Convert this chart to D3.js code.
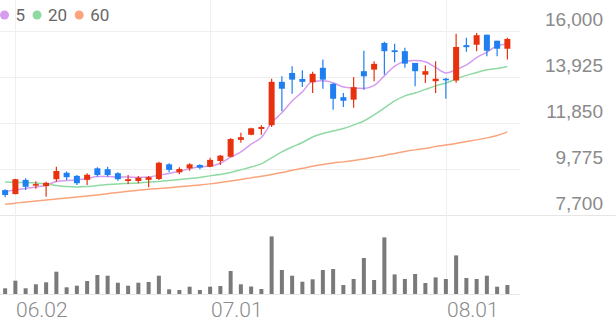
<!DOCTYPE html>
<html>
<head>
<meta charset="utf-8">
<script src="https://cdn.jsdelivr.net/npm/d3@7"></script>
<style>
  body { margin: 0; background: #fff; }
  svg { display: block; font-family: Roboto, sans-serif; }
</style>
</head>
<body>
<script>
// trading days, 2025-05-30 .. 2025-08-11
const dates = [
  "05.30", "06.02", "06.04", "06.05", "06.09", "06.10", "06.11", "06.12", "06.13", "06.16",
  "06.17", "06.18", "06.19", "06.20", "06.23", "06.24", "06.25", "06.26", "06.27", "06.30",
  "07.01", "07.02", "07.03", "07.04", "07.07", "07.08", "07.09", "07.10", "07.11", "07.14",
  "07.15", "07.16", "07.17", "07.18", "07.21", "07.22", "07.23", "07.24", "07.25", "07.28",
  "07.29", "07.30", "07.31", "08.01", "08.04", "08.05", "08.06", "08.07", "08.08", "08.11"
];
const tickDates = ["06.02", "07.01", "08.01"];
const priceTicks = [7700, 9775, 11850, 13925, 16000];

const opens = [8820, 8640, 9280, 9020, 9000, 9310, 9600, 9460, 9280, 9800, 9760, 9580, 9230, 9230, 9280, 9320, 9980, 9620, 9800, 9950, 9870, 10130, 10320, 11080, 11310, 11570, 11740, 13690, 14090, 13820, 13670, 14320, 13600, 13000, 12890, 14170, 14240, 15440, 15110, 15070, 14540, 14010, 13720, 13830, 13750, 15340, 15360, 15810, 15540, 15180];
const highs = [8860, 9330, 9350, 9220, 9200, 9870, 9660, 9500, 9580, 9850, 9870, 9620, 9500, 9460, 9460, 10100, 10030, 9850, 10030, 9980, 10280, 10400, 11150, 11400, 11630, 11740, 13830, 13940, 14390, 14210, 14140, 14690, 13640, 13190, 13910, 15090, 14620, 15490, 15400, 15220, 14540, 14420, 14620, 13870, 15850, 15670, 15890, 15810, 15540, 15670];
const lows = [8500, 8630, 8830, 8880, 8520, 9200, 9280, 9050, 9050, 9420, 9420, 9240, 9100, 9130, 8950, 9280, 9620, 9530, 9690, 9760, 9850, 9950, 10300, 10950, 11290, 11310, 11660, 12370, 13160, 13460, 13190, 13380, 12440, 12560, 12520, 13340, 13720, 14010, 14570, 14320, 13490, 13640, 13190, 12930, 13650, 15040, 15070, 14840, 14840, 14690];
const closes = [8600, 9310, 8970, 9090, 9150, 9680, 9400, 9130, 9510, 9500, 9500, 9310, 9310, 9380, 9400, 10050, 9730, 9770, 9980, 9830, 10180, 10370, 11120, 11200, 11600, 11660, 13690, 13380, 13790, 13690, 14050, 13790, 12930, 12840, 13450, 13940, 14500, 15070, 15030, 14510, 14170, 14170, 13830, 13760, 15260, 15250, 15790, 15090, 15180, 15620];
// volume, thousand shares
const volumes = [285, 665, 285, 485, 585, 1115, 335, 415, 650, 950, 915, 565, 415, 565, 600, 915, 235, 200, 365, 200, 365, 400, 1150, 485, 375, 250, 2880, 1200, 915, 615, 735, 1200, 1250, 450, 750, 1800, 700, 2830, 980, 750, 1000, 550, 830, 750, 1930, 800, 750, 915, 365, 450];

const ma5 = [8760, 8830, 8890, 8960, 9030, 9210, 9250, 9280, 9340, 9430, 9430, 9410, 9410, 9390, 9410, 9490, 9570, 9670, 9780, 9870, 9900, 10030, 10300, 10540, 10890, 11190, 11850, 12300, 12830, 13240, 13720, 13740, 13650, 13460, 13410, 13390, 13530, 13960, 14400, 14610, 14650, 14590, 14340, 14090, 14240, 14450, 14780, 15030, 15310, 15390];
const ma20 = [9190, 9170, 9160, 9140, 9100, 9030, 8980, 8960, 8980, 9030, 9070, 9100, 9120, 9140, 9190, 9210, 9250, 9300, 9340, 9390, 9460, 9520, 9610, 9730, 9860, 10000, 10270, 10540, 10760, 10960, 11210, 11370, 11480, 11590, 11750, 11930, 12200, 12520, 12830, 13060, 13190, 13350, 13510, 13640, 13820, 13980, 14110, 14230, 14290, 14380];
const ma60 = [8180, 8230, 8290, 8330, 8380, 8420, 8470, 8510, 8560, 8600, 8660, 8710, 8770, 8810, 8860, 8890, 8930, 8970, 9010, 9050, 9100, 9160, 9230, 9300, 9370, 9440, 9520, 9610, 9710, 9800, 9890, 9970, 10040, 10090, 10150, 10220, 10300, 10380, 10470, 10560, 10630, 10690, 10780, 10850, 10920, 11010, 11080, 11170, 11280, 11440];

const maNames = ["5", "20", "60"];
const maColors = ["#d59cf0", "#8fdaa2", "#f9a47c"];
const upColor = "#e8320f";
const downColor = "#1f7ff0";

const width = 616;
const height = 321;
const plotRight = 520;

const svg = d3.select("body").append("svg")
  .attr("width", width)
  .attr("height", height);

const x = d3.scaleBand()
  .domain(d3.range(dates.length))
  .range([0, 512.5]);
const cx = (i) => x(i) + x.bandwidth() / 2;

const y = d3.scaleLinear()
  .domain([7700, 16000])
  .range([215, 30.5]);

const yVol = d3.scaleLinear()
  .domain([0, 2900])
  .range([294, 236]);

// grid
svg.append("g")
  .selectAll("line")
  .data(priceTicks)
  .enter()
  .append("line")
  .attr("x1", 0)
  .attr("x2", (d) => (d === 7700 ? width : plotRight))
  .attr("y1", (d) => Math.round(y(d)) + 0.5)
  .attr("y2", (d) => Math.round(y(d)) + 0.5)
  .attr("stroke", (d) => (d === 7700 ? "#e6e6e6" : "#efefef"));

const tickIdx = tickDates.map((d) => dates.indexOf(d));

svg.append("g")
  .selectAll("line")
  .data(tickIdx)
  .enter()
  .append("line")
  .attr("x1", (i) => Math.round(cx(i)) + 0.5)
  .attr("x2", (i) => Math.round(cx(i)) + 0.5)
  .attr("y1", 0)
  .attr("y2", 294)
  .attr("stroke", "#efefef");

svg.append("line")
  .attr("x1", 0)
  .attr("x2", plotRight)
  .attr("y1", 294.5)
  .attr("y2", 294.5)
  .attr("stroke", "#e6e6e6");

// price labels
const yAxis = d3.axisRight(y)
  .tickValues(priceTicks)
  .tickSize(0)
  .tickFormat(d3.format(","));

const yAxisG = svg.append("g")
  .attr("transform", "translate(603,0)")
  .call(yAxis);
yAxisG.select(".domain").remove();
yAxisG.selectAll("text")
  .attr("x", 0)
  .attr("dy", -5.5)
  .attr("text-anchor", "end")
  .attr("fill", "#8a8a8a")
  .style("font-size", "19px")
  .style("font-weight", 300);

// date labels
svg.append("g")
  .selectAll("text")
  .data(tickIdx)
  .enter()
  .append("text")
  .attr("x", (i) => Math.round(cx(i)) + 1)
  .attr("y", 316.5)
  .attr("fill", "#8a8a8a")
  .style("font-size", "21px")
  .style("font-weight", 300)
  .text((i) => dates[i]);

// volume
svg.append("g")
  .selectAll("rect")
  .data(volumes)
  .enter()
  .append("rect")
  .attr("x", (d, i) => cx(i) - 2)
  .attr("width", 4)
  .attr("y", (d) => yVol(d))
  .attr("height", (d) => yVol(0) - yVol(d))
  .attr("fill", "#7a7a7a");

// moving averages
[ma5, ma20, ma60].forEach(function (series, k) {
  const line = d3.line()
    .x((d, i) => cx(i))
    .y((d) => y(d))
    .curve(d3.curveMonotoneX);
  svg.append("path")
    .datum(series)
    .attr("d", line)
    .attr("fill", "none")
    .attr("stroke", maColors[k])
    .attr("stroke-width", 1.5);
});

// candles
const candles = svg.append("g")
  .selectAll("g")
  .data(dates.map((d, i) => i))
  .enter()
  .append("g")
  .attr("fill", (i) => (closes[i] >= opens[i] ? upColor : downColor))
  .attr("stroke", (i) => (closes[i] >= opens[i] ? upColor : downColor));

candles.append("line")
  .attr("x1", (i) => cx(i))
  .attr("x2", (i) => cx(i))
  .attr("y1", (i) => y(highs[i]))
  .attr("y2", (i) => y(lows[i]))
  .attr("stroke-width", 1.2);

candles.append("rect")
  .attr("stroke", "none")
  .attr("x", (i) => cx(i) - 3)
  .attr("width", 6)
  .attr("y", (i) => y(Math.max(opens[i], closes[i])))
  .attr("height", (i) => Math.max(1.5, Math.abs(y(opens[i]) - y(closes[i]))));

// legend
const legend = svg.append("g").attr("transform", "translate(0,15)");
let lx = 4.5;
maNames.forEach(function (name, k) {
  legend.append("circle")
    .attr("cx", lx)
    .attr("cy", 0)
    .attr("r", 4.5)
    .attr("fill", maColors[k]);
  const t = legend.append("text")
    .attr("x", lx + 11)
    .attr("y", 6)
    .attr("fill", "#666")
    .style("font-size", "17px")
    .text(name);
  lx += 11 + t.node().getComputedTextLength() + 12;
});
</script>
</body>
</html>
